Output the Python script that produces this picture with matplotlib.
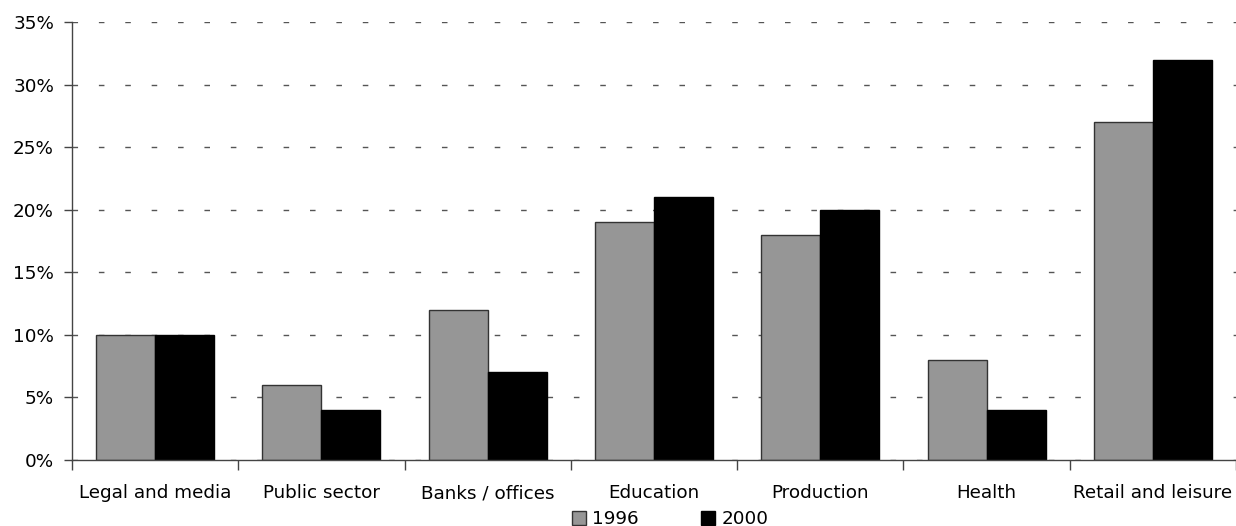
import numpy as np
import matplotlib.pyplot as plt
from matplotlib.patches import Patch

# share of respondents by sector
sectors = ['Legal and media', 'Public sector', 'Banks / offices', 'Education',
           'Production', 'Health', 'Retail and leisure']
share_1996 = [10, 6, 12, 19, 18, 8, 27]
share_2000 = [10, 4, 7, 21, 20, 4, 32]
years = ['1996', '2000']

plt.rcParams['font.family'] = ['DejaVu Sans']
fs = 13.2

fig = plt.figure(figsize=(12.36, 5.26), dpi=100)
ax = fig.add_axes([72/1236, 1 - 460/526, 1 - 72/1236, 438/526])

x = np.arange(len(sectors))
w = 0.355
ax.bar(x - w/2, share_1996, w, color='#969696', edgecolor='#333333', linewidth=1, zorder=3)
ax.bar(x + w/2, share_2000, w, color='black', edgecolor='black', linewidth=1, zorder=3)

ax.set_xlim(-0.5, len(sectors) - 0.5)
ax.set_ylim(0, 35)
ax.set_yticks(np.arange(0, 36, 5))
ax.set_yticklabels([f'{v}%' for v in range(0, 36, 5)], fontsize=fs)
ax.set_xticks(x)
ax.set_xticklabels(sectors, fontsize=fs)
ax.tick_params(axis='x', length=0, pad=17.5)
ax.set_xticks(np.arange(-0.5, len(sectors)), minor=True)
ax.tick_params(axis='x', which='minor', length=7, width=1, color='#444444', direction='out')
ax.tick_params(axis='y', length=6, width=1, color='#444444', direction='out', pad=7)

ax.yaxis.grid(True, color='#555555', linestyle=(0, (4, 15)), linewidth=1, zorder=0)
for s in ['top', 'right']:
    ax.spines[s].set_visible(False)
for s in ['left', 'bottom']:
    ax.spines[s].set_color('#444444')
    ax.spines[s].set_linewidth(1)
    ax.spines[s].set_zorder(4)

handles = [Patch(facecolor='#969696', edgecolor='#333333'),
           Patch(facecolor='black', edgecolor='black')]
fig.legend(handles, years, loc='lower center', bbox_to_anchor=(670/1236, -0.022),
           ncol=2, frameon=False, fontsize=fs, handlelength=0.75, handleheight=0.75,
           handletextpad=0.35, columnspacing=3.4, borderpad=0)

fig.savefig('out.png', dpi=100)
